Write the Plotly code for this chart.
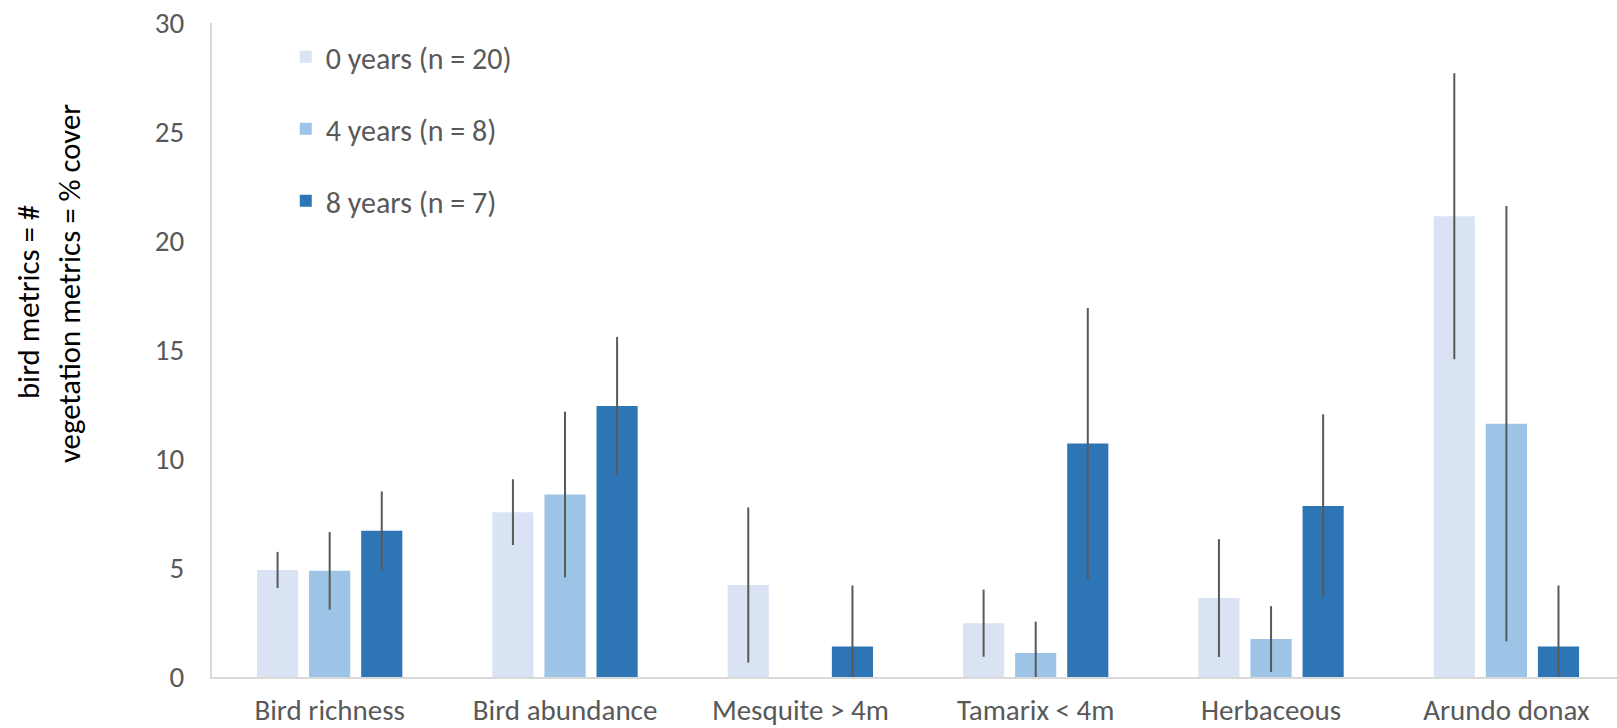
import plotly.graph_objects as go

categories = ["Bird richness", "Bird abundance", "Mesquite > 4m", "Tamarix < 4m", "Herbaceous", "Arundo donax"]
series_names = ["0 years (n = 20)", "4 years (n = 8)", "8 years (n = 7)"]
y0 = [4.91, 7.56, 4.22, 2.47, 3.62, 21.13]
y4 = [4.87, 8.37, 0.0, 1.10, 1.74, 11.62]
y8 = [6.71, 12.43, 1.40, 10.71, 7.84, 1.40]
e0 = [0.83, 1.51, 3.56, 1.54, 2.70, 6.56]
e4 = [1.78, 3.80, 0.0, 1.44, 1.51, 9.98]
e8 = [1.80, 3.17, 2.80, 6.22, 4.21, 2.80]
colors = ["#DAE3F3", "#9DC3E6", "#2E75B6"]

FONT = "Calibri, Carlito, Lato, sans-serif"
GREY = "#595959"

fig = go.Figure()
for name, vals, errs, col in zip(series_names, [y0, y4, y8], [e0, e4, e8], colors):
    fig.add_trace(go.Bar(
        x=categories, y=vals, name=name, legendgroup=name,
        marker=dict(color=col, line=dict(width=0)),
        error_y=dict(type="data", array=errs, visible=True, width=0,
                     thickness=2, color=GREY),
    ))

fig.update_layout(
    width=1617, height=728,
    margin=dict(l=212, r=0, t=23, b=51),
    paper_bgcolor="white", plot_bgcolor="white",
    barmode="group", bargap=0.336, bargroupgap=0.21,
    font=dict(family=FONT, color=GREY, size=29),
    legend=dict(x=0.0525, y=0.988, xanchor="left", yanchor="top",
                font=dict(family=FONT, size=30, color=GREY),
                tracegroupgap=30, bgcolor="rgba(0,0,0,0)"),
    xaxis=dict(range=[-0.5, 5.47], showline=True, linecolor="#D9D9D9", linewidth=2,
               showgrid=False, ticks="", ticklabelstandoff=6, automargin=False,
               tickfont=dict(family=FONT, size=29, color=GREY)),
    yaxis=dict(range=[0, 30], dtick=5, showline=True, linecolor="#D9D9D9", linewidth=2,
               showgrid=False, zeroline=False, ticks="", ticklabelstandoff=20,
               automargin=False,
               tickfont=dict(family=FONT, size=29, color=GREY)),
    annotations=[
        dict(text="bird metrics = #", textangle=-90, xref="paper", yref="paper",
             x=-0.1302, y=0.5734, xanchor="center", yanchor="middle", showarrow=False,
             font=dict(family=FONT, size=30.8, color="black")),
        dict(text="vegetation metrics = % cover", textangle=-90, xref="paper", yref="paper",
             x=-0.1010, y=0.601, xanchor="center", yanchor="middle", showarrow=False,
             font=dict(family=FONT, size=30.8, color="black")),
    ],
)

fig.write_html(
    "out.html",
    config={"displayModeBar": False},
    post_script="document.body.style.margin='0';document.body.style.overflow='hidden';",
)
